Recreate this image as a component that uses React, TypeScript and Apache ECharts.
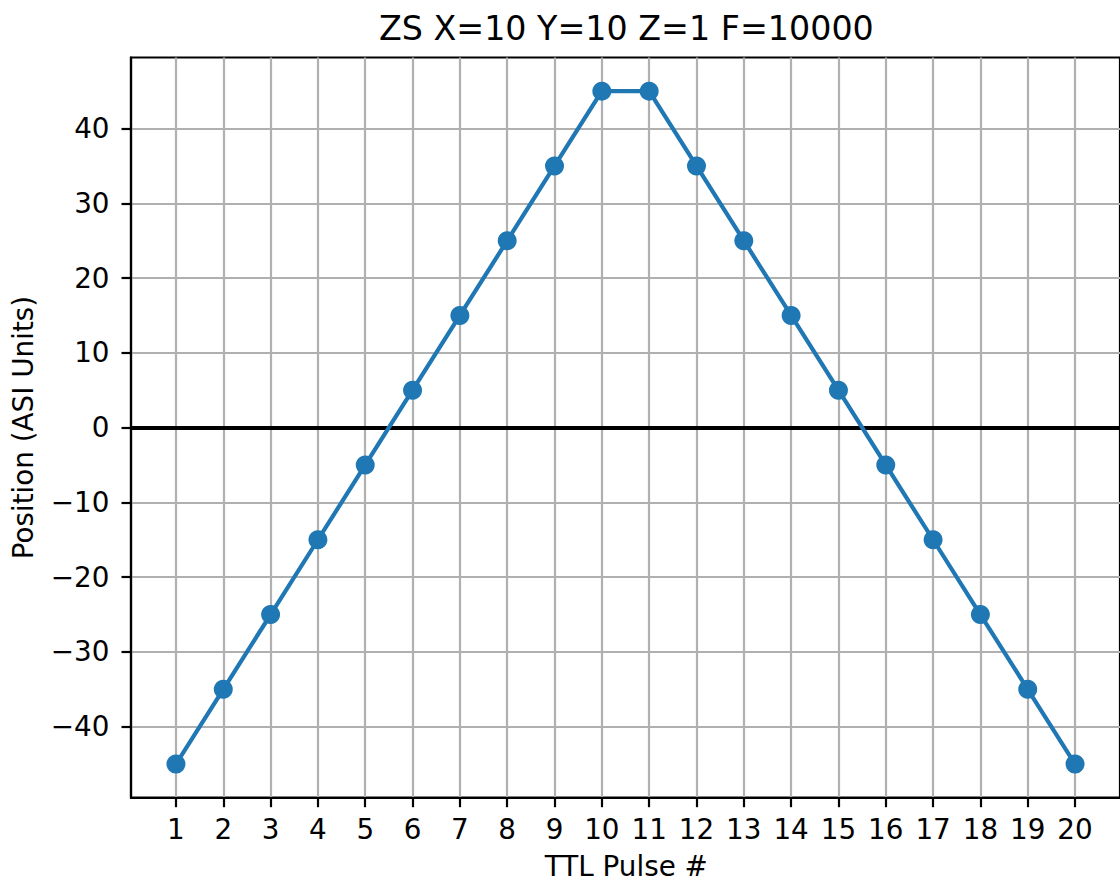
import React, { useEffect, useRef } from "react";
import * as echarts from "echarts";

const pulses: number[] = [1, 2, 3, 4, 5, 6, 7, 8, 9, 10, 11, 12, 13, 14, 15, 16, 17, 18, 19, 20];
const positions: number[] = [-45, -35, -25, -15, -5, 5, 15, 25, 35, 45, 45, 35, 25, 15, 5, -5, -15, -25, -35, -45];
const xTicks: number[] = pulses;
const yTicks: number[] = [-40, -30, -20, -10, 0, 10, 20, 30, 40];
const titleText = "ZS X=10 Y=10 Z=1 F=10000";
const xName = "TTL Pulse #";
const yName = "Position (ASI Units)";

const FONT = "DejaVu Sans";
const fmt = (v: number) => (v < 0 ? "\u2212" + Math.abs(v) : String(v));

export default function App() {
  const ref = useRef<HTMLDivElement>(null);
  useEffect(() => {
    if (!ref.current) return;
    const chart = echarts.init(ref.current, undefined, { renderer: "svg" });
    const gridLeft = 131;
    const gridTop = 57.5;
    const gridW = 990.7;
    const gridH = 740.2;
    const cx = gridLeft + gridW / 2;
    chart.setOption({
      animation: false,
      backgroundColor: "#ffffff",
      textStyle: { fontFamily: FONT },
      grid: {
        left: gridLeft,
        top: gridTop,
        width: gridW,
        height: gridH,
        show: true,
        borderColor: "#000000",
        borderWidth: 2.2,
        backgroundColor: "transparent",
        containLabel: false,
      },
      xAxis: {
        type: "value",
        min: 0.05,
        max: 20.95,
        axisLine: { show: true, onZero: false, lineStyle: { color: "#000", width: 2.2 } },
        axisTick: { show: true, customValues: xTicks, length: 9.5, lineStyle: { color: "#000", width: 2.2 } },
        axisLabel: {
          show: true,
          customValues: xTicks,
          margin: 17.5,
          color: "#000",
          fontSize: 27.8,
          fontFamily: FONT,
          formatter: (v: number) => fmt(v),
        },
        splitLine: { show: true, customValues: xTicks, lineStyle: { color: "#b0b0b0", width: 2.2 } },
      },
      yAxis: {
        type: "value",
        min: -49.5,
        max: 49.5,
        axisLine: { show: true, onZero: false, lineStyle: { color: "#000", width: 2.2 } },
        axisTick: { show: true, customValues: yTicks, length: 9.5, lineStyle: { color: "#000", width: 2.2 } },
        axisLabel: {
          show: true,
          customValues: yTicks,
          margin: 21.5,
          color: "#000",
          fontSize: 27.8,
          fontFamily: FONT,
          formatter: (v: number) => fmt(v),
        },
        splitLine: { show: true, customValues: yTicks, lineStyle: { color: "#b0b0b0", width: 2.2 } },
      },
      graphic: [
        {
          type: "text",
          x: cx,
          y: 28,
          style: {
            text: titleText,
            fontFamily: FONT,
            fontSize: 33.3,
            fill: "#000",
            textAlign: "center",
            textVerticalAlign: "middle",
          },
        },
        {
          type: "text",
          x: cx,
          y: 866,
          style: {
            text: xName,
            fontFamily: FONT,
            fontSize: 27.8,
            fill: "#000",
            textAlign: "center",
            textVerticalAlign: "middle",
          },
        },
        {
          type: "text",
          x: 23,
          y: gridTop + gridH / 2,
          rotation: Math.PI / 2,
          style: {
            text: yName,
            fontFamily: FONT,
            fontSize: 27.8,
            fill: "#000",
            textAlign: "center",
            textVerticalAlign: "middle",
          },
        },
      ],
      series: [
        {
          type: "line",
          data: pulses.map((p, i) => [p, positions[i]]),
          z: 10,
          symbol: "circle",
          symbolSize: 19,
          itemStyle: { color: "#1f77b4" },
          lineStyle: { color: "#1f77b4", width: 4.2 },
          markLine: {
            silent: true,
            z: 1,
            symbol: ["none", "none"],
            label: { show: false },
            lineStyle: { color: "#000", width: 4.2, type: "solid" },
            data: [{ yAxis: 0 }],
          },
        },
      ],
    });
    return () => chart.dispose();
  }, []);
  return (
    <div
      ref={ref}
      style={{ position: "fixed", left: 0, top: 0, width: 1120, height: 881, background: "#fff" }}
    />
  );
}
